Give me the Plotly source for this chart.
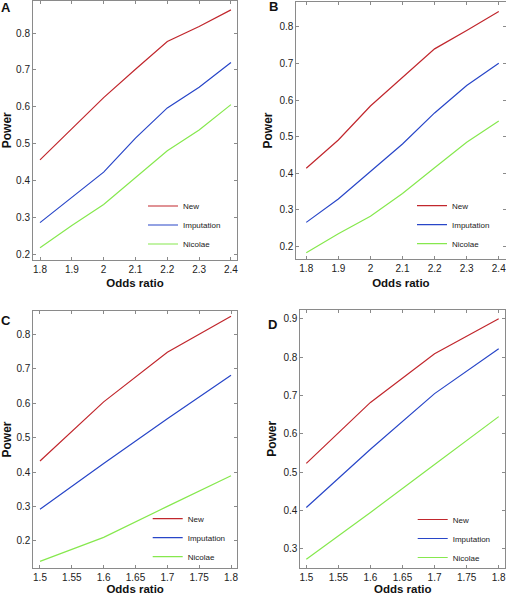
import plotly.graph_objects as go

W, H = 506, 595

# ---- data ----
odds_ab = [1.8, 1.9, 2.0, 2.1, 2.2, 2.3, 2.4]
odds_cd = [1.5, 1.6, 1.7, 1.8]

a_new = [0.456, 0.540, 0.625, 0.702, 0.777, 0.818, 0.863]
a_imp = [0.286, 0.355, 0.423, 0.515, 0.597, 0.653, 0.720]
a_nic = [0.218, 0.278, 0.335, 0.408, 0.481, 0.537, 0.606]

b_new = [0.414, 0.491, 0.584, 0.662, 0.740, 0.790, 0.842]
b_imp = [0.266, 0.330, 0.405, 0.480, 0.565, 0.640, 0.701]
b_nic = [0.183, 0.235, 0.283, 0.345, 0.415, 0.485, 0.543]

c_new = [0.432, 0.604, 0.748, 0.853]
c_imp = [0.292, 0.425, 0.555, 0.681]
c_nic = [0.140, 0.210, 0.300, 0.389]

d_new = [0.523, 0.682, 0.809, 0.900]
d_imp = [0.408, 0.560, 0.705, 0.822]
d_nic = [0.273, 0.395, 0.520, 0.645]

series_names = ["New", "Imputation", "Nicolae"]
colors = ["#c1272d", "#2846c8", "#86e84e"]

ticks_ab = [1.8, 1.9, 2.0, 2.1, 2.2, 2.3, 2.4]
ticklabels_ab = ["1.8", "1.9", "2", "2.1", "2.2", "2.3", "2.4"]
ticks_cd = [1.5, 1.55, 1.6, 1.65, 1.7, 1.75, 1.8]
ticklabels_cd = ["1.5", "1.55", "1.6", "1.65", "1.7", "1.75", "1.8"]
yticks_abc = [0.2, 0.3, 0.4, 0.5, 0.6, 0.7, 0.8]
yticks_d = [0.3, 0.4, 0.5, 0.6, 0.7, 0.8, 0.9]

panels = [
    dict(letter="A", x=odds_ab, ys=[a_new, a_imp, a_nic], xr=[1.778, 2.419], yr=[0.186, 0.887],
         xt=ticks_ab, xtl=ticklabels_ab, yt=yticks_abc,
         dom_x=[33 / W, 237 / W], dom_y=[1 - 259.5 / H, 1 - 1 / H],
         leg=(143 / W, 1 - 225 / H), let=(5.5, 7.5)),
    dict(letter="B", x=odds_ab, ys=[b_new, b_imp, b_nic], xr=[1.769, 2.421], yr=[0.166, 0.868],
         xt=ticks_ab, xtl=ticklabels_ab, yt=yticks_abc,
         dom_x=[296.3 / W, 505.5 / W], dom_y=[1 - 259 / H, 1 - 2 / H],
         leg=(412 / W, 1 - 224.7 / H), let=(273, 7)),
    dict(letter="C", x=odds_cd, ys=[c_new, c_imp, c_nic], xr=[1.4895, 1.8094], yr=[0.12, 0.869],
         xt=ticks_cd, xtl=ticklabels_cd, yt=yticks_abc,
         dom_x=[33.3 / W, 237 / W], dom_y=[1 - 568.3 / H, 1 - 310.7 / H],
         leg=(147.7 / W, 1 - 537.7 / H), let=(5.5, 320)),
    dict(letter="D", x=odds_cd, ys=[d_new, d_imp, d_nic], xr=[1.4906, 1.8103], yr=[0.251, 0.923],
         xt=ticks_cd, xtl=ticklabels_cd, yt=yticks_d,
         dom_x=[300.3 / W, 505.3 / W], dom_y=[1 - 567.7 / H, 1 - 310 / H],
         leg=(412.7 / W, 1 - 538.5 / H), let=(272, 324)),
]

fig = go.Figure()
FONT = "Liberation Sans, Arial, Helvetica, sans-serif"
annotations = []
layout = {}
for i, p in enumerate(panels):
    n = i + 1
    xa = "x" if n == 1 else f"x{n}"
    ya = "y" if n == 1 else f"y{n}"
    lg = "legend" if n == 1 else f"legend{n}"
    for name, yv, col in zip(series_names, p["ys"], colors):
        fig.add_trace(go.Scatter(x=p["x"], y=yv, mode="lines", name=name,
                                 line=dict(color=col, width=1.2),
                                 xaxis=xa, yaxis=ya, legend=lg))
    axis_common = dict(showgrid=False, zeroline=False, showline=True, linecolor="#8a8a8a",
                       linewidth=1, mirror="ticks", ticks="inside", ticklen=3,
                       tickcolor="#8a8a8a", automargin=False, ticklabeloverflow="allow",
                       tickfont=dict(size=10, color="#222", family=FONT))
    layout["xaxis" if n == 1 else f"xaxis{n}"] = dict(
        axis_common, domain=p["dom_x"], range=p["xr"], anchor=ya,
        tickmode="array", tickvals=p["xt"], ticktext=p["xtl"],
        title=dict(text="<b>Odds ratio</b>", font=dict(size=11.5, color="#111", family=FONT), standoff=5))
    layout["yaxis" if n == 1 else f"yaxis{n}"] = dict(
        axis_common, domain=p["dom_y"], range=p["yr"], anchor=xa,
        tickmode="array", tickvals=p["yt"], ticktext=[f"{v:.1f}" for v in p["yt"]],
        title=dict(text="<b>Power</b>", font=dict(size=12, color="#111", family=FONT), standoff=4))
    layout[lg] = dict(x=p["leg"][0], y=p["leg"][1], xanchor="left", yanchor="middle",
                      bgcolor="rgba(0,0,0,0)", font=dict(size=8, color="#222", family=FONT),
                      itemwidth=30)
    annotations.append(dict(text=f"<b>{p['letter']}</b>", x=p["let"][0] / W, y=1 - p["let"][1] / H,
                            xref="paper", yref="paper", showarrow=False,
                            font=dict(size=13, color="#111", family=FONT),
                            xanchor="center", yanchor="middle"))

fig.update_layout(width=W, height=H, margin=dict(l=0, r=0, t=0, b=0, autoexpand=False),
                  paper_bgcolor="white", plot_bgcolor="white", showlegend=True,
                  annotations=annotations, **layout)
fig.write_html("out.html", config={"displayModeBar": False},
               post_script="document.body.style.margin='0px';document.body.style.overflow='hidden';")
